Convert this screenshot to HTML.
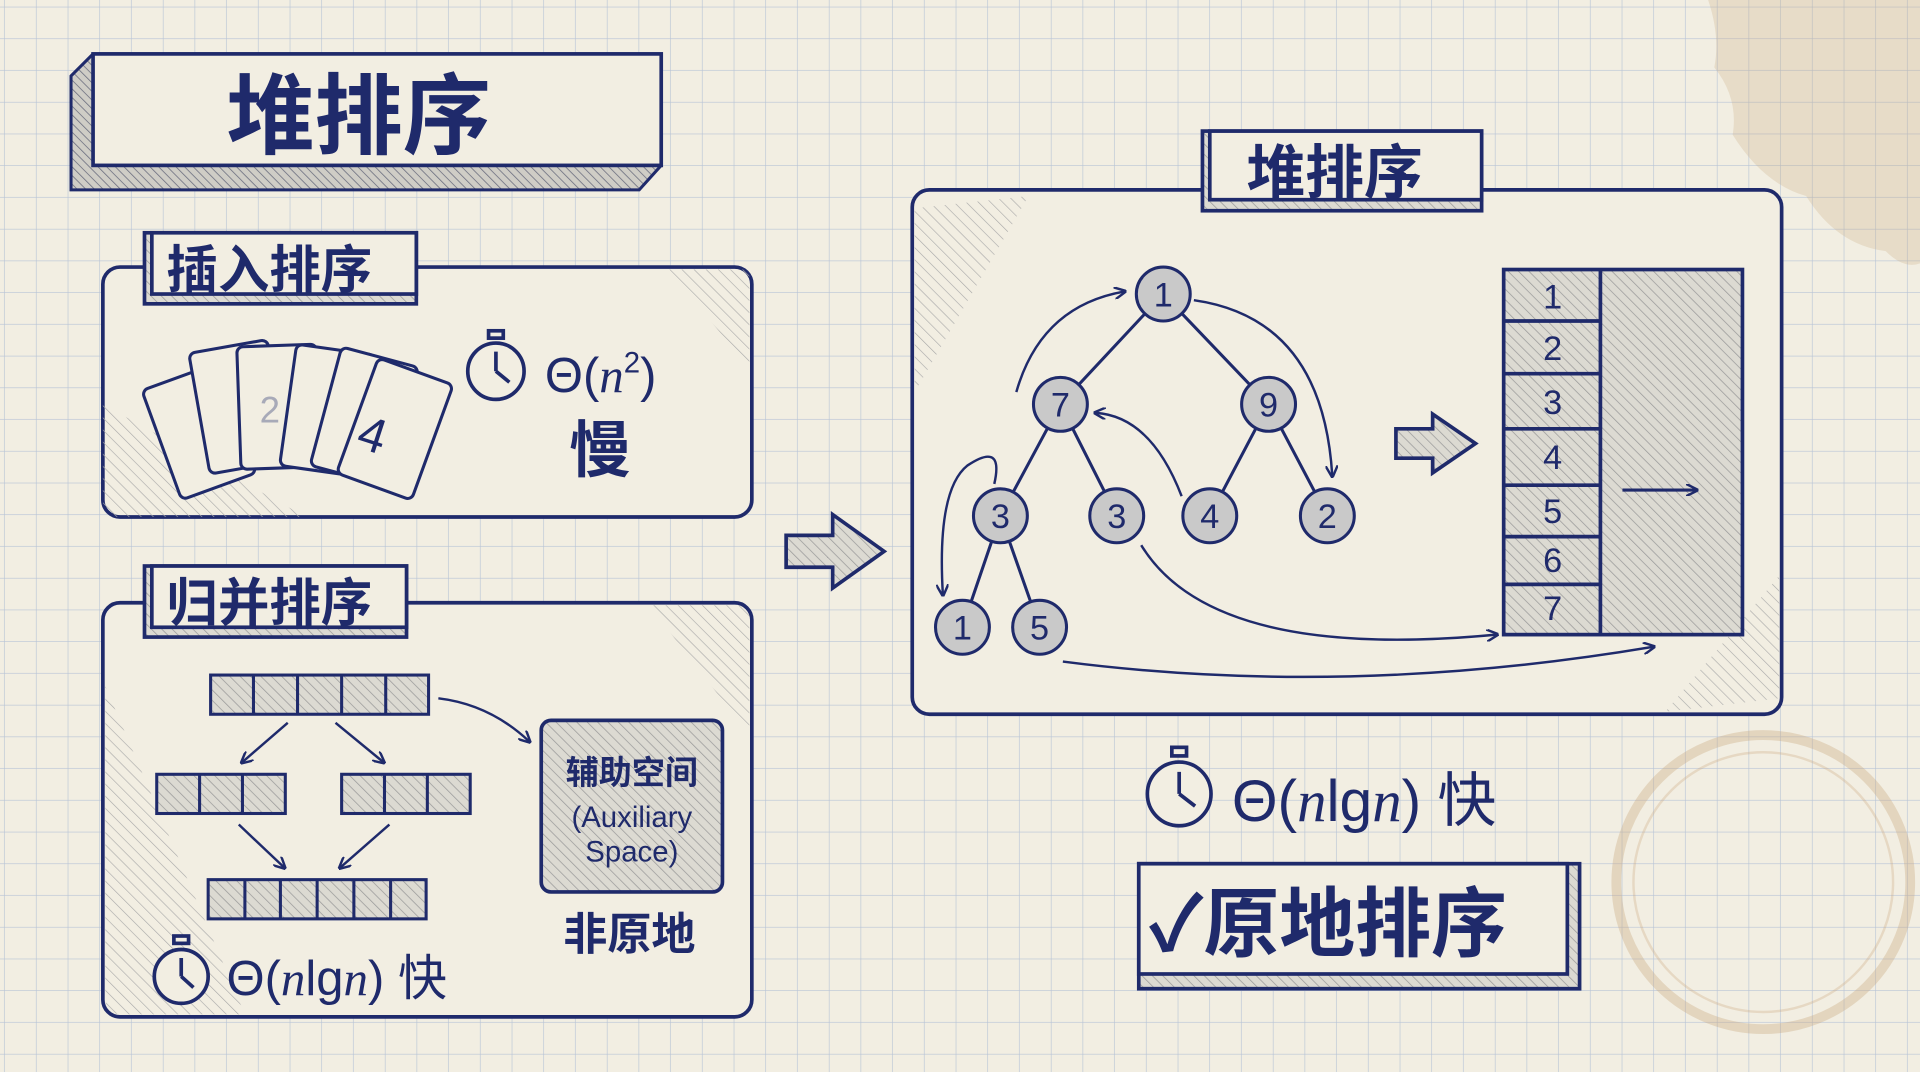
<!DOCTYPE html>
<html><head><meta charset="utf-8"><style>
html,body{margin:0;padding:0;background:#f2eee2;}
svg{display:block}
text{font-family:"Liberation Sans","Noto Sans CJK SC",sans-serif;fill:#1f2a6b;}
</style></head><body>
<svg width="1920" height="1072" viewBox="0 0 1568 875" preserveAspectRatio="none" xmlns="http://www.w3.org/2000/svg">
<defs>
<pattern id="grid" width="25.9" height="25.9" patternUnits="userSpaceOnUse" x="4" y="6">
<path d="M25.9 0V25.9M0 25.9H25.9" stroke="#b7c3d6" stroke-width="1" fill="none"/>
</pattern>
<pattern id="hatch" width="6" height="6" patternUnits="userSpaceOnUse" patternTransform="rotate(-45)">
<rect width="6" height="6" fill="#dcdad2"/>
<line x1="0" y1="0" x2="0" y2="6" stroke="#9a9a9a" stroke-width="1.2"/>
</pattern>
<pattern id="hatchD" width="5" height="5" patternUnits="userSpaceOnUse" patternTransform="rotate(-45)">
<rect width="5" height="5" fill="#cfcdc6"/>
<line x1="0" y1="0" x2="0" y2="5" stroke="#6d7080" stroke-width="1.3"/>
</pattern>
<pattern id="hatchL" width="7" height="7" patternUnits="userSpaceOnUse" patternTransform="rotate(-45)">
<line x1="0" y1="0" x2="0" y2="7" stroke="#a8a8a8" stroke-width="1"/>
</pattern>
<marker id="ah" markerWidth="10" markerHeight="10" refX="8" refY="5" orient="auto" markerUnits="userSpaceOnUse">
<path d="M0,0 L10,5 L0,10" fill="none" stroke="#1f2a6b" stroke-width="2"/>
</marker>
</defs>
<rect width="1568" height="875" fill="#f2eee2"/>
<rect width="1568" height="875" fill="url(#grid)"/>
<!-- coffee stains -->
<path d="M1395 0 Q1405 30 1400 55 Q1420 80 1415 110 Q1440 150 1475 160 Q1500 200 1540 205 Q1555 220 1568 215 L1568 0Z" fill="#c9a77a" opacity=".25"/>
<circle cx="1440" cy="720" r="120" fill="none" stroke="#c9a77a" stroke-width="8" opacity=".35"/>
<circle cx="1440" cy="720" r="106" fill="none" stroke="#c9a77a" stroke-width="2" opacity=".3"/>

<g stroke="#1f2a6b" fill="none" stroke-width="3">
<!-- title -->
<path d="M58 62 L76 44 L540 44 L540 135 L522 155 L58 155Z" fill="url(#hatchD)" stroke-width="2.5"/>
<rect x="76" y="44" width="464" height="91" fill="#f2eee2"/>
<!-- insertion -->
<rect x="84" y="218" width="530" height="204" rx="14" fill="#f2eee2"/>
<path d="M84 330 L84 408 Q84 422 98 422 L250 422Z" fill="url(#hatchL)" stroke="none"/>
<path d="M545 220 L612 220 L612 300Z" fill="url(#hatchL)" stroke="none"/>
<rect x="118" y="190" width="222" height="58" fill="url(#hatch)"/>
<rect x="124" y="190" width="216" height="50" fill="#f2eee2"/>
<!-- merge -->
<rect x="84" y="492" width="530" height="338" rx="14" fill="#f2eee2"/>
<path d="M86 560 L86 815 Q86 828 100 828 L200 828 Z" fill="url(#hatchL)" stroke="none"/>
<path d="M530 494 L612 494 L612 600Z" fill="url(#hatchL)" stroke="none"/>
<rect x="118" y="462" width="214" height="58" fill="url(#hatch)"/>
<rect x="124" y="462" width="208" height="50" fill="#f2eee2"/>
<!-- heap -->
<rect x="745" y="155" width="710" height="428" rx="14" fill="#f2eee2"/>
<path d="M747 170 L747 320 L840 160 Z" fill="url(#hatchL)" stroke="none"/>
<path d="M1453 470 L1453 570 L1360 581 Z" fill="url(#hatchL)" stroke="none"/>
<rect x="982" y="107" width="228" height="65" fill="url(#hatch)"/>
<rect x="988" y="107" width="222" height="56" fill="#f2eee2"/>
<!-- in-place -->
<rect x="930" y="705" width="360" height="102" fill="url(#hatch)"/>
<rect x="930" y="705" width="350" height="90" fill="#f2eee2"/>
</g>
<text x="185" y="120" font-size="72" font-weight="bold">堆排序</text>
<text x="136" y="235" font-size="42" font-weight="bold">插入排序</text>
<text x="136" y="507" font-size="42" font-weight="bold">归并排序</text>
<text x="1018" y="158" font-size="48" font-weight="bold">堆排序</text>
<text x="938" y="776" font-size="62" font-weight="bold">✓原地排序</text>

<!-- cards -->
<g stroke="#1f2a6b" stroke-width="2.5" fill="#f2eee2">
<rect x="130" y="305" width="65" height="95" rx="5" transform="rotate(-20 162 352)"/>
<rect x="162" y="282" width="65" height="100" rx="5" transform="rotate(-10 195 330)"/>
<rect x="195" y="282" width="65" height="100" rx="5" transform="rotate(-2 228 330)"/>
<rect x="235" y="285" width="65" height="100" rx="5" transform="rotate(8 268 335)"/>
<rect x="265" y="290" width="65" height="100" rx="5" transform="rotate(15 298 340)"/>
<rect x="290" y="300" width="65" height="100" rx="5" transform="rotate(20 322 350)"/>
</g>
<text x="295" y="370" font-size="40" transform="rotate(18 310 350)">4</text>
<text x="212" y="345" font-size="30" fill-opacity=".35">2</text>

<!-- stopwatches -->
<g stroke="#1f2a6b" stroke-width="3" fill="#f2eee2">
<circle cx="405" cy="303" r="23"/><rect x="399" y="270" width="12" height="6"/><path d="M405 303V287M405 303L416 312" />
<circle cx="148" cy="797" r="22"/><rect x="142" y="764" width="12" height="6"/><path d="M148 797V782M148 797L158 806"/>
<circle cx="963" cy="648" r="26"/><rect x="957" y="610" width="12" height="7"/><path d="M963 648V630M963 648L976 658"/>
</g>
<text x="445" y="320" font-size="40">Θ(<tspan font-style="italic" font-family="Liberation Serif">n</tspan><tspan font-size="24" dy="-16">2</tspan><tspan dy="16">)</tspan></text>
<text x="465" y="385" font-size="50" font-weight="bold">慢</text>
<text x="185" y="812" font-size="40">Θ(<tspan font-style="italic" font-family="Liberation Serif">n</tspan>lg<tspan font-style="italic" font-family="Liberation Serif">n</tspan>) 快</text>
<text x="1006" y="670" font-size="48">Θ(<tspan font-style="italic" font-family="Liberation Serif">n</tspan>lg<tspan font-style="italic" font-family="Liberation Serif">n</tspan>) 快</text>

<!-- merge arrays -->
<g stroke="#1f2a6b" stroke-width="2.5" fill="url(#hatch)">
<rect x="172" y="551" width="178" height="32"/>
<rect x="128" y="632" width="105" height="32"/>
<rect x="279" y="632" width="105" height="32"/>
<rect x="170" y="718" width="178" height="32"/>
<path d="M207 551v32M243 551v32M279 551v32M315 551v32M163 632v32M198 632v32M314 632v32M349 632v32M200 718v32M229 718v32M259 718v32M289 718v32M319 718v32" fill="none"/>
<rect x="442" y="588" width="148" height="140" rx="8" stroke-width="3"/>
</g>
<g stroke="#1f2a6b" stroke-width="2" fill="none" marker-end="url(#ah)">
<path d="M235 590 L198 622"/><path d="M274 590 L313 622"/>
<path d="M195 673 L232 708"/><path d="M318 673 L278 708"/>
<path d="M358 570 Q400 575 432 605"/>
</g>
<text x="516" y="640" font-size="27" font-weight="bold" text-anchor="middle">辅助空间</text>
<text x="516" y="675" font-size="24" text-anchor="middle">(Auxiliary</text>
<text x="516" y="703" font-size="24" text-anchor="middle">Space)</text>
<text x="460" y="775" font-size="36" font-weight="bold">非原地</text>

<!-- big arrows -->
<path d="M642 437 L680 437 L680 420 L722 450 L680 480 L680 463 L642 463Z" fill="url(#hatch)" stroke="#1f2a6b" stroke-width="3"/>
<path d="M1140 350 L1170 350 L1170 338 L1205 362 L1170 386 L1170 374 L1140 374Z" fill="url(#hatch)" stroke="#1f2a6b" stroke-width="3"/>

<!-- tree -->
<g stroke="#1f2a6b" stroke-width="2.5" fill="none">
<path d="M950 240L866 330M950 240L1036 330M866 330L817 421M866 330L912 421M1036 330L988 421M1036 330L1084 421M817 421L786 512M817 421L849 512"/>
</g>
<g stroke="#1f2a6b" stroke-width="2" fill="none" marker-end="url(#ah)">
<path d="M830 320 Q850 250 918 238"/>
<path d="M975 245 Q1080 260 1088 388"/>
<path d="M965 405 Q940 340 895 337"/>
<path d="M812 395 Q820 360 790 380 Q765 400 770 485"/>
<path d="M932 445 Q990 540 1222 518"/>
<path d="M868 540 Q1100 570 1350 528"/>
</g>
<g stroke="#1f2a6b" stroke-width="2.5" fill="#c9c9c9">
<circle cx="950" cy="240" r="22"/><circle cx="866" cy="330" r="22"/><circle cx="1036" cy="330" r="22"/>
<circle cx="817" cy="421" r="22"/><circle cx="912" cy="421" r="22"/><circle cx="988" cy="421" r="22"/><circle cx="1084" cy="421" r="22"/>
<circle cx="786" cy="512" r="22"/><circle cx="849" cy="512" r="22"/>
</g>
<g font-size="28" text-anchor="middle">
<text x="950" y="250">1</text><text x="866" y="340">7</text><text x="1036" y="340">9</text>
<text x="817" y="431">3</text><text x="912" y="431">3</text><text x="988" y="431">4</text><text x="1084" y="431">2</text>
<text x="786" y="522">1</text><text x="849" y="522">5</text>
</g>

<!-- array -->
<rect x="1228" y="220" width="195" height="298" fill="url(#hatch)" stroke="#1f2a6b" stroke-width="3"/>
<g stroke="#1f2a6b" stroke-width="3">
<path d="M1307 220V518M1228 262H1307M1228 305H1307M1228 350H1307M1228 396H1307M1228 438H1307M1228 477H1307"/>
<path d="M1325 400H1385" stroke-width="2.5" marker-end="url(#ah)"/>
</g>
<g font-size="28" text-anchor="middle">
<text x="1268" y="252">1</text><text x="1268" y="294">2</text><text x="1268" y="338">3</text><text x="1268" y="383">4</text><text x="1268" y="427">5</text><text x="1268" y="467">6</text><text x="1268" y="506">7</text>
</g>
</svg>
</body></html>
